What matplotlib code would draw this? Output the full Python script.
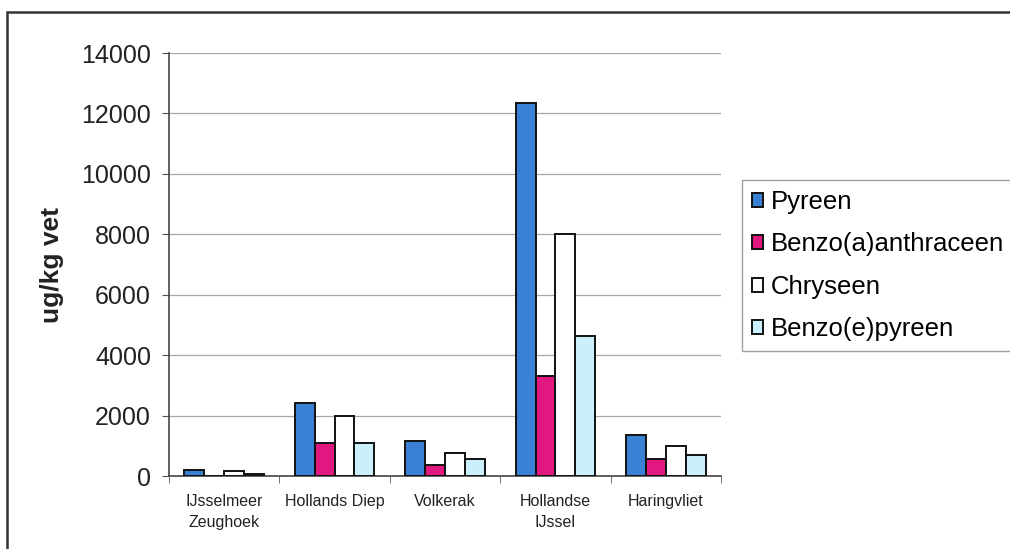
import matplotlib
matplotlib.use("Agg")
import matplotlib.pyplot as plt
from matplotlib.patches import Rectangle
import numpy as np

plt.rcParams['font.family'] = ['Liberation Sans', 'DejaVu Sans']

# Sampling locations
locations = ["IJsselmeer\nZeughoek", "Hollands Diep", "Volkerak", "Hollandse\nIJssel", "Haringvliet"]

# PAK concentrations (ug/kg vet)
pyreen = [200, 2400, 1150, 12350, 1350]
benzo_a_anthraceen = [0, 1100, 350, 3300, 550]
chryseen = [150, 2000, 750, 8000, 1000]
benzo_e_pyreen = [80, 1100, 550, 4650, 700]

series_names = ["Pyreen", "Benzo(a)anthraceen", "Chryseen", "Benzo(e)pyreen"]
series_values = [pyreen, benzo_a_anthraceen, chryseen, benzo_e_pyreen]
series_colors = ["#3a80d4", "#e0187f", "#ffffff", "#c9f0fb"]

yticks = [0, 2000, 4000, 6000, 8000, 10000, 12000, 14000]

fig = plt.figure(figsize=(10.10, 5.49), dpi=100)
W, H = 1010, 549
ax = fig.add_axes([169 / W, 1 - 476 / H, (721 - 169) / W, (476 - 53) / H])

x = np.arange(len(locations))
bw = 0.18
offsets = (np.arange(len(series_names)) - 1.5) * bw
for name, vals, col, off in zip(series_names, series_values, series_colors, offsets):
    ax.bar(x + off, vals, width=bw, color=col, edgecolor="#111111",
           linewidth=1.4, label=name, zorder=3)

ax.set_xlim(-0.5, len(locations) - 0.5)
ax.set_ylim(0, 14000)
ax.set_yticks(yticks)
ax.set_yticklabels([str(v) for v in yticks], fontsize=18, color="#222222")
ax.yaxis.grid(True, color="#a8a8a8", linewidth=0.9, zorder=0)
ax.set_axisbelow(True)

# category labels centred, ticks at the category boundaries
ax.set_xticks(x)
ax.set_xticklabels(locations, fontsize=11.5, color="#222222", linespacing=1.5)
ax.tick_params(axis="x", which="major", length=0, pad=13)
ax.set_xticks(np.arange(len(locations) + 1) - 0.5, minor=True)
ax.tick_params(axis="x", which="minor", length=5, color="#555555", direction="out")
ax.tick_params(axis="y", length=5, color="#555555", direction="out", pad=8)

for s in ["top", "right"]:
    ax.spines[s].set_visible(False)
for s in ["left", "bottom"]:
    ax.spines[s].set_color("#444444")
    ax.spines[s].set_linewidth(1.2)

ax.set_ylabel("ug/kg vet", fontsize=19, fontweight="bold", color="#222222", labelpad=12)

leg = fig.legend(loc="upper left", bbox_to_anchor=(742 / W, 1 - 180 / H),
                 fontsize=18.5, frameon=True, fancybox=False, edgecolor="#888888",
                 handlelength=0.45, handleheight=0.45, handletextpad=0.3,
                 labelspacing=0.72, borderpad=0.38, borderaxespad=0)
leg.get_frame().set_linewidth(1.0)

# outer chart-area frame
fig.patches.append(Rectangle((7 / W, -0.05), 1.1, 1 - 12 / H + 0.05,
                             transform=fig.transFigure, fill=False,
                             edgecolor="#333333", linewidth=1.8))

fig.savefig("out.png", dpi=100)
